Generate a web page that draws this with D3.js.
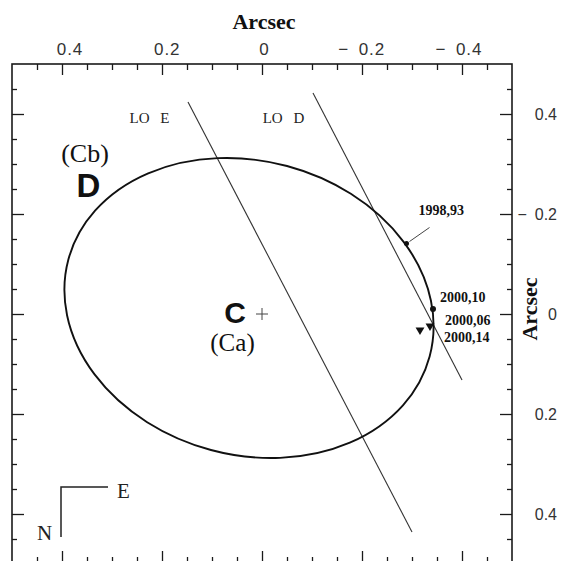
<!DOCTYPE html>
<html><head><meta charset="utf-8">
<script src="https://cdn.jsdelivr.net/npm/d3@7"></script>
<style>
html,body{margin:0;padding:0;background:#fff;}
svg{display:block;}
</style></head><body>
<script>
// Axis ticks, arcsec
const majorTicks = [-0.4, -0.2, 0, 0.2, 0.4];
const minorTicks = [-0.45, -0.35, -0.3, -0.25, -0.15, -0.1, -0.05, 0.05, 0.1, 0.15, 0.25, 0.3, 0.35, 0.45];
const topTickValues = [0.4, 0.2, 0, -0.2, -0.4];
const topTickLabels = ["0.4", "0.2", "0", "\u2212\u20020.2", "\u2212\u20020.4"];
const rightTickValues = [-0.4, -0.2, 0, 0.2, 0.4];
const rightTickLabels = ["0.4", "\u2212\u20020.2", "0", "0.2", "0.4"];

// Relative orbit of D (Cb) around C (Ca), arcsec
const orbitCenter = [0.026, -0.012];
const orbitSemiAxes = [0.374, 0.294];
const orbitTiltDeg = 15;

// Measured positions
const epochLabels = ["1998,93", "2000,10", "2000,06", "2000,14"];
const epochX = [-0.289, -0.342, -0.336, -0.316];
const epochY = [-0.141, -0.010, 0.024, 0.032];
const epochMarker = ["dot", "dot", "triangle", "triangle"];

// Occulter edges
const occLabels = ["LO E", "LO D"];
const occStartX = [0.148, -0.102];
const occStartY = [-0.424, -0.442];
const occEndX = [-0.300, -0.400];
const occEndY = [0.436, 0.132];
const occLabelX = [0.225, -0.043];
const occLabelY = [-0.383, -0.383];

const W = 568, H = 561;
const svg = d3.select("body").append("svg").attr("width", W).attr("height", H)
  .style("background", "#fff");

const x = d3.scaleLinear().domain([0.5, -0.5]).range([12, 512]);
const y = d3.scaleLinear().domain([-0.5, 0.5]).range([64, 564]);
// tick labels sit on a slightly narrower spread than the ticks
const xLab = d3.scaleLinear().domain([0.4, -0.4]).range([70, 459]);

const ink = "#1a1a1a";
const serif = "'Liberation Serif', 'DejaVu Serif', serif";
const sans = "'Liberation Sans', Arial, sans-serif";

// frame
svg.append("rect")
  .attr("x", x(0.5)).attr("y", y(-0.5))
  .attr("width", x(-0.5) - x(0.5)).attr("height", y(0.5) - y(-0.5))
  .attr("fill", "none").attr("stroke", ink).attr("stroke-width", 1.6);

function addAxis(gen, tr, vals, len) {
  const g = svg.append("g").attr("transform", tr)
    .call(gen.tickValues(vals).tickSize(-len).tickFormat(""));
  g.select(".domain").remove();
  g.selectAll(".tick line").attr("stroke", ink).attr("stroke-width", 1.3);
}
addAxis(d3.axisTop(x), `translate(0,${y(-0.5)})`, majorTicks, 11);
addAxis(d3.axisTop(x), `translate(0,${y(-0.5)})`, minorTicks, 6);
addAxis(d3.axisBottom(x), `translate(0,${y(0.5)})`, majorTicks, 13);
addAxis(d3.axisBottom(x), `translate(0,${y(0.5)})`, minorTicks, 7);
addAxis(d3.axisLeft(y), `translate(${x(0.5)},0)`, majorTicks, 12);
addAxis(d3.axisLeft(y), `translate(${x(0.5)},0)`, minorTicks, 5);
addAxis(d3.axisRight(y), `translate(${x(-0.5)},0)`, majorTicks, 12);
addAxis(d3.axisRight(y), `translate(${x(-0.5)},0)`, minorTicks, 5);

// tick labels
svg.append("g").selectAll("text").data(topTickValues).join("text")
  .attr("x", d => xLab(d)).attr("y", 55)
  .attr("text-anchor", "middle")
  .attr("font-family", sans).attr("font-size", 17).attr("letter-spacing", 1)
  .attr("fill", "#333")
  .text((d, i) => topTickLabels[i]);

svg.append("g").selectAll("text").data(rightTickValues).join("text")
  .attr("x", 557).attr("y", d => y(d) + 6)
  .attr("text-anchor", "end")
  .attr("font-family", sans).attr("font-size", 16)
  .attr("fill", "#333")
  .text((d, i) => rightTickLabels[i]);

// axis titles
svg.append("text").attr("x", 264).attr("y", 29).attr("text-anchor", "middle")
  .attr("font-family", serif).attr("font-weight", "bold").attr("font-size", 22)
  .attr("fill", "#111").text("Arcsec");
svg.append("text").attr("transform", `translate(537,${y(-0.01)}) rotate(-90)`)
  .attr("text-anchor", "middle")
  .attr("font-family", serif).attr("font-weight", "bold").attr("font-size", 22)
  .attr("fill", "#111").text("Arcsec");

// occulter edges
occLabels.forEach((lab, i) => {
  svg.append("line")
    .attr("x1", x(occStartX[i])).attr("y1", y(occStartY[i]))
    .attr("x2", x(occEndX[i])).attr("y2", y(occEndY[i]))
    .attr("stroke", "#333").attr("stroke-width", 1.1);
  svg.append("text")
    .attr("x", x(occLabelX[i])).attr("y", y(occLabelY[i]))
    .attr("text-anchor", "middle")
    .attr("font-family", serif).attr("font-size", 15).attr("word-spacing", 7)
    .attr("fill", "#222").text(lab);
});

// orbit
const cx = x(orbitCenter[0]), cy = y(orbitCenter[1]);
svg.append("ellipse")
  .attr("cx", 0).attr("cy", 0)
  .attr("rx", Math.abs(x(orbitSemiAxes[0]) - x(0)))
  .attr("ry", Math.abs(y(orbitSemiAxes[1]) - y(0)))
  .attr("transform", `translate(${cx},${cy}) rotate(${orbitTiltDeg})`)
  .attr("fill", "none").attr("stroke", "#111").attr("stroke-width", 1.9);

// primary position
const px = x(0), py = y(0);
svg.append("path")
  .attr("d", `M${px - 6},${py}H${px + 6}M${px},${py - 6}V${py + 6}`)
  .attr("stroke", "#444").attr("stroke-width", 1);

// markers
const tri = d3.symbol().type(d3.symbolTriangle).size(34);
epochLabels.forEach((lab, i) => {
  const ex = x(epochX[i]), ey = y(epochY[i]);
  if (epochMarker[i] === "dot") {
    svg.append("circle").attr("cx", ex).attr("cy", ey).attr("r", i === 0 ? 2.5 : 3)
      .attr("fill", "#111");
  } else {
    svg.append("path").attr("d", tri())
      .attr("transform", `translate(${ex},${ey}) rotate(180)`)
      .attr("fill", "#111");
  }
});

// epoch labels, offset from their own points
const labelDX = [12, 7, 15, 24];
const labelDY = [-29, -7, -1, 12];
epochLabels.forEach((lab, i) => {
  const ex = x(epochX[i]), ey = y(epochY[i]);
  svg.append("text")
    .attr("x", ex + labelDX[i]).attr("y", ey + labelDY[i])
    .attr("font-family", serif).attr("font-weight", "bold").attr("font-size", 14)
    .attr("fill", "#111").text(lab);
});
// leader from 1998,93 label to its point
{
  const ex = x(epochX[0]), ey = y(epochY[0]);
  svg.append("line").attr("x1", ex + 3).attr("y1", ey - 2)
    .attr("x2", ex + 23).attr("y2", ey - 16)
    .attr("stroke", "#444").attr("stroke-width", 1);
}

// component labels
const comp = svg.append("g").attr("fill", "#111");
comp.append("text").attr("x", x(0.354)).attr("y", y(-0.304)).attr("text-anchor", "middle")
  .attr("font-family", serif).attr("font-size", 26).text("(Cb)");
comp.append("text").attr("x", x(0.347)).attr("y", y(-0.234)).attr("text-anchor", "middle")
  .attr("font-family", sans).attr("font-weight", "bold").attr("font-size", 33).text("D");
comp.append("text").attr("x", x(0.054)).attr("y", y(0.018)).attr("text-anchor", "middle")
  .attr("font-family", sans).attr("font-weight", "bold").attr("font-size", 30).text("C");
comp.append("text").attr("x", x(0.059)).attr("y", y(0.074)).attr("text-anchor", "middle")
  .attr("font-family", serif).attr("font-size", 25).text("(Ca)");

// compass
const compass = svg.append("g").attr("transform", "translate(61,487)");
compass.append("path").attr("d", "M47,0H0V50")
  .attr("fill", "none").attr("stroke", "#222").attr("stroke-width", 1.5);
compass.append("text").attr("x", 56).attr("y", 11)
  .attr("font-family", serif).attr("font-size", 21).attr("fill", "#222").text("E");
compass.append("text").attr("x", -24).attr("y", 53)
  .attr("font-family", serif).attr("font-size", 21).attr("fill", "#222").text("N");
</script>
</body></html>
